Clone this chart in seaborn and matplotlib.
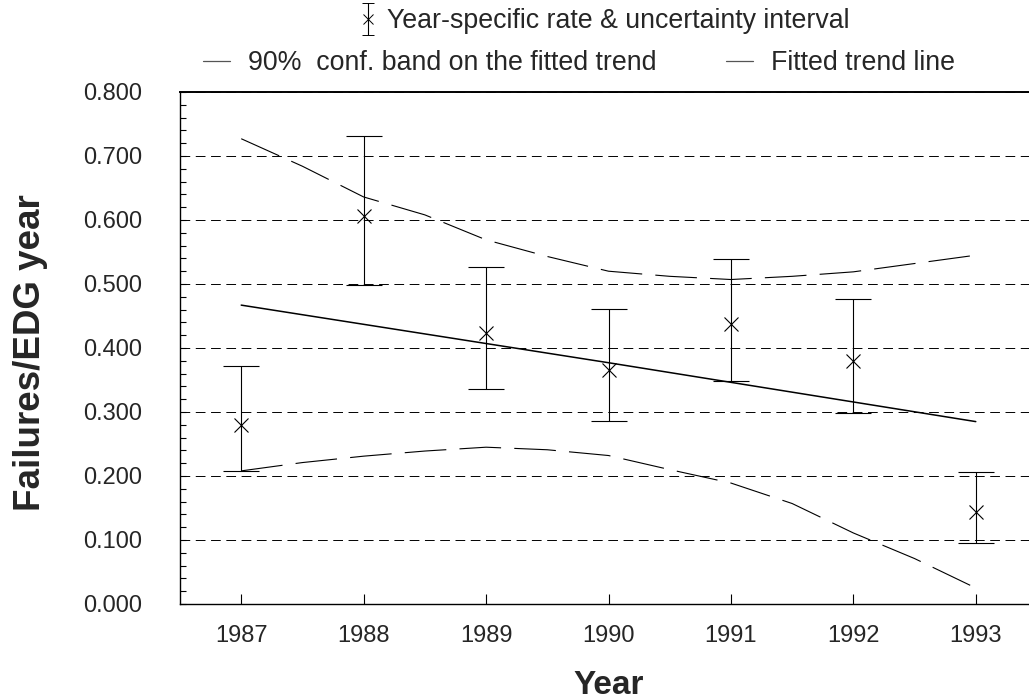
import numpy as np
import pandas as pd
import matplotlib
matplotlib.use("Agg")
import matplotlib.pyplot as plt
from matplotlib.legend_handler import HandlerErrorbar
import seaborn as sns

# ---- data ----
years = [1987, 1988, 1989, 1990, 1991, 1992, 1993]
rate = [0.280, 0.606, 0.423, 0.365, 0.437, 0.380, 0.143]
rate_lo = [0.208, 0.498, 0.336, 0.286, 0.349, 0.298, 0.095]
rate_hi = [0.372, 0.731, 0.527, 0.461, 0.539, 0.476, 0.207]

trend_years = [1987, 1990, 1993]
trend = [0.467, 0.377, 0.285]

band_years = [1987, 1987.5, 1988, 1988.5, 1989, 1989.5, 1990, 1990.5,
              1991, 1991.5, 1992, 1992.5, 1993]
band_upper = [0.727, 0.684, 0.636, 0.608, 0.569, 0.543, 0.520, 0.512,
              0.507, 0.512, 0.519, 0.532, 0.545]
band_lower = [0.208, 0.221, 0.231, 0.239, 0.245, 0.241, 0.232, 0.210,
              0.189, 0.157, 0.111, 0.071, 0.025]

y_ticks = [0.0, 0.1, 0.2, 0.3, 0.4, 0.5, 0.6, 0.7, 0.8]
legend_labels = ["Year-specific rate & uncertainty interval",
                 "90%  conf. band on the fitted trend",
                 "Fitted trend line"]

# ---- style ----
sns.set_theme(style="white")
plt.rcParams["font.family"] = ["Liberation Sans", "DejaVu Sans"]
plt.rcParams["lines.scale_dashes"] = False

W, H = 1029, 700
fig = plt.figure(figsize=(W / 100, H / 100), dpi=100)
ax = fig.add_axes([180 / W, 1 - 604 / H, (1037 - 180) / W, 512 / H])

df_trend = pd.DataFrame({"year": trend_years, "value": trend})
df_band = pd.DataFrame({"year": band_years, "upper": band_upper, "lower": band_lower})

band_dash = (0, (30, 9.5))
sns.lineplot(data=df_band, x="year", y="upper", ax=ax, color="black",
             lw=0.8, linestyle=band_dash)
sns.lineplot(data=df_band, x="year", y="lower", ax=ax, color="black",
             lw=0.8, linestyle=band_dash)
sns.lineplot(data=df_trend, x="year", y="value", ax=ax, color="black", lw=1.1)

r = np.array(rate)
yerr = [r - np.array(rate_lo), np.array(rate_hi) - r]
ax.errorbar(years, rate, yerr=yerr, fmt="x", color="black", ms=10, mew=0.8,
            elinewidth=0.8, capsize=13, capthick=0.9)

ax.set_xlim(1986.5, 1993.5)
ax.set_ylim(0, 0.8)
ax.set_xticks(years)
ax.set_yticks(y_ticks)
ax.set_yticklabels([f"{v:.3f}" for v in y_ticks])
ax.set_yticks(np.arange(0, 0.8001, 0.02), minor=True)
ax.yaxis.grid(True, which="major", linestyle=(0, (7, 4)), color="black", lw=0.7)
ax.xaxis.grid(False)

ax.tick_params(axis="y", which="both", direction="in", length=4.3, width=0.8,
               color="black", left=True, labelsize=17, pad=27)
ax.tick_params(axis="x", which="major", direction="in", length=7, width=0.8,
               color="black", bottom=True, labelsize=17, pad=15)
ax.tick_params(axis="x", which="minor", bottom=False)

for s in ["left", "bottom"]:
    ax.spines[s].set_color("black")
    ax.spines[s].set_linewidth(1.0)
ax.spines["top"].set_color("black")
ax.spines["top"].set_linewidth(1.4)
ax.spines["right"].set_visible(False)

ax.set_xlabel("Year", fontsize=24, fontweight="bold")
ax.set_ylabel("Failures/EDG year", fontsize=26.5, fontweight="bold")
ax.xaxis.set_label_coords(0.5, (604 - 670) / 512)
ax.yaxis.set_label_coords((48 - 180) / 857, 0.49)

# ---- legend ----
hid = fig.add_axes([-2, -2, 0.01, 0.01])
hid.set_axis_off()
proxy = hid.errorbar([0], [0], yerr=[[0.1], [0.1]], fmt="x", color="black",
                     ms=7, mew=0.7, elinewidth=0.8, capsize=4, capthick=0.8)
LFS = 19.3
leg1 = fig.legend(handles=[proxy], labels=[legend_labels[0]], loc="center left",
                  bbox_to_anchor=(362 / W, 1 - 21 / H), frameon=False,
                  fontsize=LFS, handlelength=0.43, handletextpad=0.52,
                  borderpad=0, borderaxespad=0,
                  handler_map={type(proxy): HandlerErrorbar(yerr_size=0.6)})
band_line = ax.get_lines()[0]
trend_line = ax.get_lines()[2]
leg2 = fig.legend(handles=[band_line, trend_line], labels=legend_labels[1:],
                  loc="center left", bbox_to_anchor=(203 / W, 1 - 63 / H), ncol=2,
                  frameon=False, fontsize=LFS, handlelength=1.0,
                  handletextpad=0.67, columnspacing=2.6,
                  borderpad=0, borderaxespad=0)
for lh in leg2.legend_handles:
    lh.set_color("#555555")
    lh.set_linestyle("-")
    lh.set_linewidth(0.9)

fig.savefig("out.png", dpi=100)
